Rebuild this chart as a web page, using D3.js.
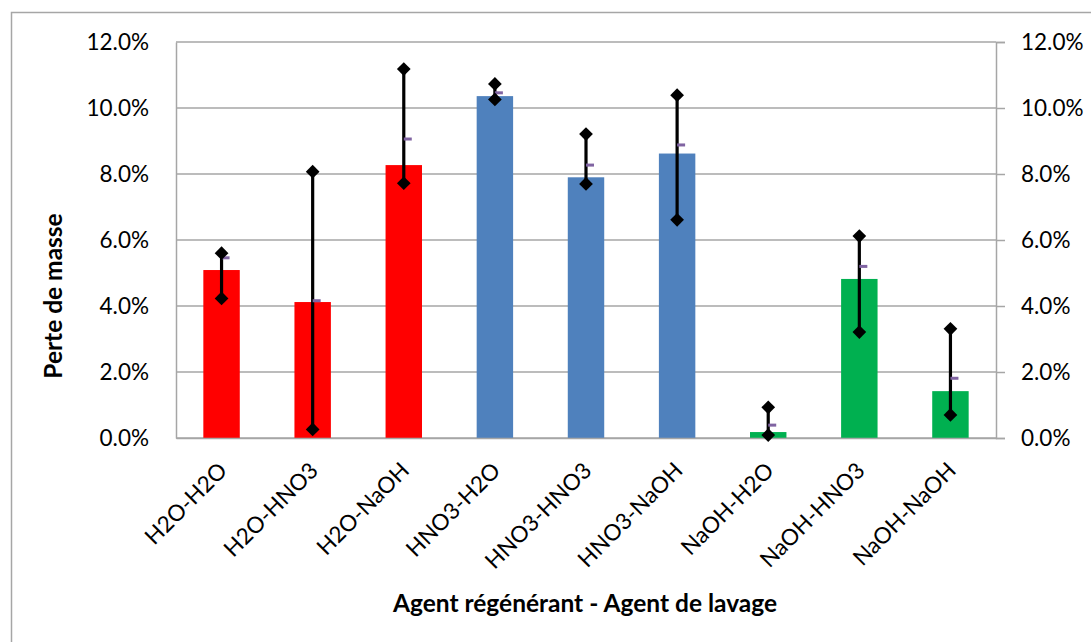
<!DOCTYPE html>
<html><head><meta charset="utf-8">
<script src="https://cdn.jsdelivr.net/npm/d3@7"></script>
<style>body{margin:0;background:#fff}svg{display:block}text{font-family:Lato,"Open Sans",sans-serif}</style>
</head><body><svg id="c" width="1091" height="642"></svg>
<script>
const categories=["H2O-H2O","H2O-HNO3","H2O-NaOH","HNO3-H2O","HNO3-HNO3","HNO3-NaOH","NaOH-H2O","NaOH-HNO3","NaOH-NaOH"];
const values=[0.0509,0.0412,0.0827,0.1036,0.0790,0.0862,0.0018,0.0482,0.0142];
const maxVals=[0.0560,0.0807,0.1118,0.1073,0.0921,0.1039,0.0093,0.0612,0.0331];
const minVals=[0.0423,0.0026,0.0772,0.1026,0.0770,0.0661,0.0009,0.0321,0.0070];
const meanVals=[0.0546,0.0416,0.0906,0.1046,0.0827,0.0888,0.0039,0.0520,0.0181];
const groups=["H2O","H2O","H2O","HNO3","HNO3","HNO3","NaOH","NaOH","NaOH"];
const yTicks=[0,0.02,0.04,0.06,0.08,0.10,0.12];
const colors={H2O:"#FF0000",HNO3:"#4F81BD",NaOH:"#00B050"};

const svg=d3.select("#c");
const L=176,R=996,T=42,B=438;
svg.append("rect").attr("x",11.5).attr("y",12.5).attr("width",1200).attr("height",800).attr("fill","none").attr("stroke","#A6A6A6").attr("stroke-width",1.5);

const x=d3.scaleBand().domain(categories).range([L,R]).paddingInner(0.6).paddingOuter(0.3);
const y=d3.scaleLinear().domain([0,0.12]).range([B,T]);
const fmt=d3.format(".1%");
const FS=22.5;

svg.append("g").selectAll("line").data(yTicks).join("line")
 .attr("x1",L).attr("x2",R).attr("y1",d=>y(d)).attr("y2",d=>y(d))
 .attr("stroke","#A6A6A6").attr("stroke-width",1.5);

const ga=svg.append("g").attr("transform",`translate(${L},0)`).call(d3.axisLeft(y).tickValues(yTicks).tickFormat(fmt).tickSize(0).tickPadding(27));
ga.select(".domain").attr("stroke","#A6A6A6").attr("stroke-width",1.5);
ga.selectAll("text").attr("font-size",FS).attr("fill","#000");
const gr=svg.append("g").attr("transform",`translate(${R},0)`).call(d3.axisRight(y).tickValues(yTicks).tickFormat(fmt).tickSize(9).tickPadding(16));
gr.select(".domain").attr("stroke","#A6A6A6").attr("stroke-width",1.5);
gr.selectAll(".tick line").attr("stroke","#A6A6A6").attr("stroke-width",1.5);
gr.selectAll("text").attr("font-size",FS).attr("fill","#000");

svg.append("g").selectAll("rect").data(categories).join("rect")
 .attr("x",d=>x(d)).attr("width",x.bandwidth())
 .attr("y",(d,i)=>y(values[i])).attr("height",(d,i)=>B-y(values[i]))
 .attr("fill",(d,i)=>colors[groups[i]]);

const gb=svg.append("g").attr("transform",`translate(0,${B})`).call(d3.axisBottom(x).tickSize(0).tickFormat(""));
gb.select(".domain").attr("stroke","#A6A6A6").attr("stroke-width",1.5);
svg.append("g").selectAll("text").data(categories).join("text")
 .attr("transform",d=>`translate(${x(d)+x.bandwidth()/2-5},${B+22}) rotate(-45)`)
 .attr("text-anchor","end").attr("dy","0.75em").attr("font-size",FS).text(d=>d);

const cx=d=>x(d)+x.bandwidth()/2;
svg.append("g").selectAll("line").data(categories).join("line")
 .attr("x1",cx).attr("x2",cx).attr("y1",(d,i)=>y(minVals[i])).attr("y2",(d,i)=>y(maxVals[i]))
 .attr("stroke","#000").attr("stroke-width",3.2);
svg.append("g").selectAll("rect").data(categories).join("rect")
 .attr("x",d=>cx(d)).attr("width",8).attr("y",(d,i)=>y(meanVals[i])-1.5).attr("height",3)
 .attr("fill","#8064A2");
const diam=d3.symbol().type(d3.symbolDiamond2).size(120);
const pts=[];categories.forEach((c,i)=>{pts.push([c,maxVals[i]]);pts.push([c,minVals[i]]);});
svg.append("g").selectAll("path").data(pts).join("path")
 .attr("d",diam).attr("transform",d=>`translate(${cx(d[0])},${y(d[1])})`).attr("fill","#000");

svg.append("text").attr("transform",`translate(62,296) rotate(-90)`).attr("text-anchor","middle")
 .attr("font-size",24.5).attr("font-weight","bold").text("Perte de masse");
svg.append("text").attr("x",585).attr("y",612).attr("text-anchor","middle")
 .attr("font-size",24.5).attr("font-weight","bold").text("Agent régénérant - Agent de lavage");
</script></body></html>
